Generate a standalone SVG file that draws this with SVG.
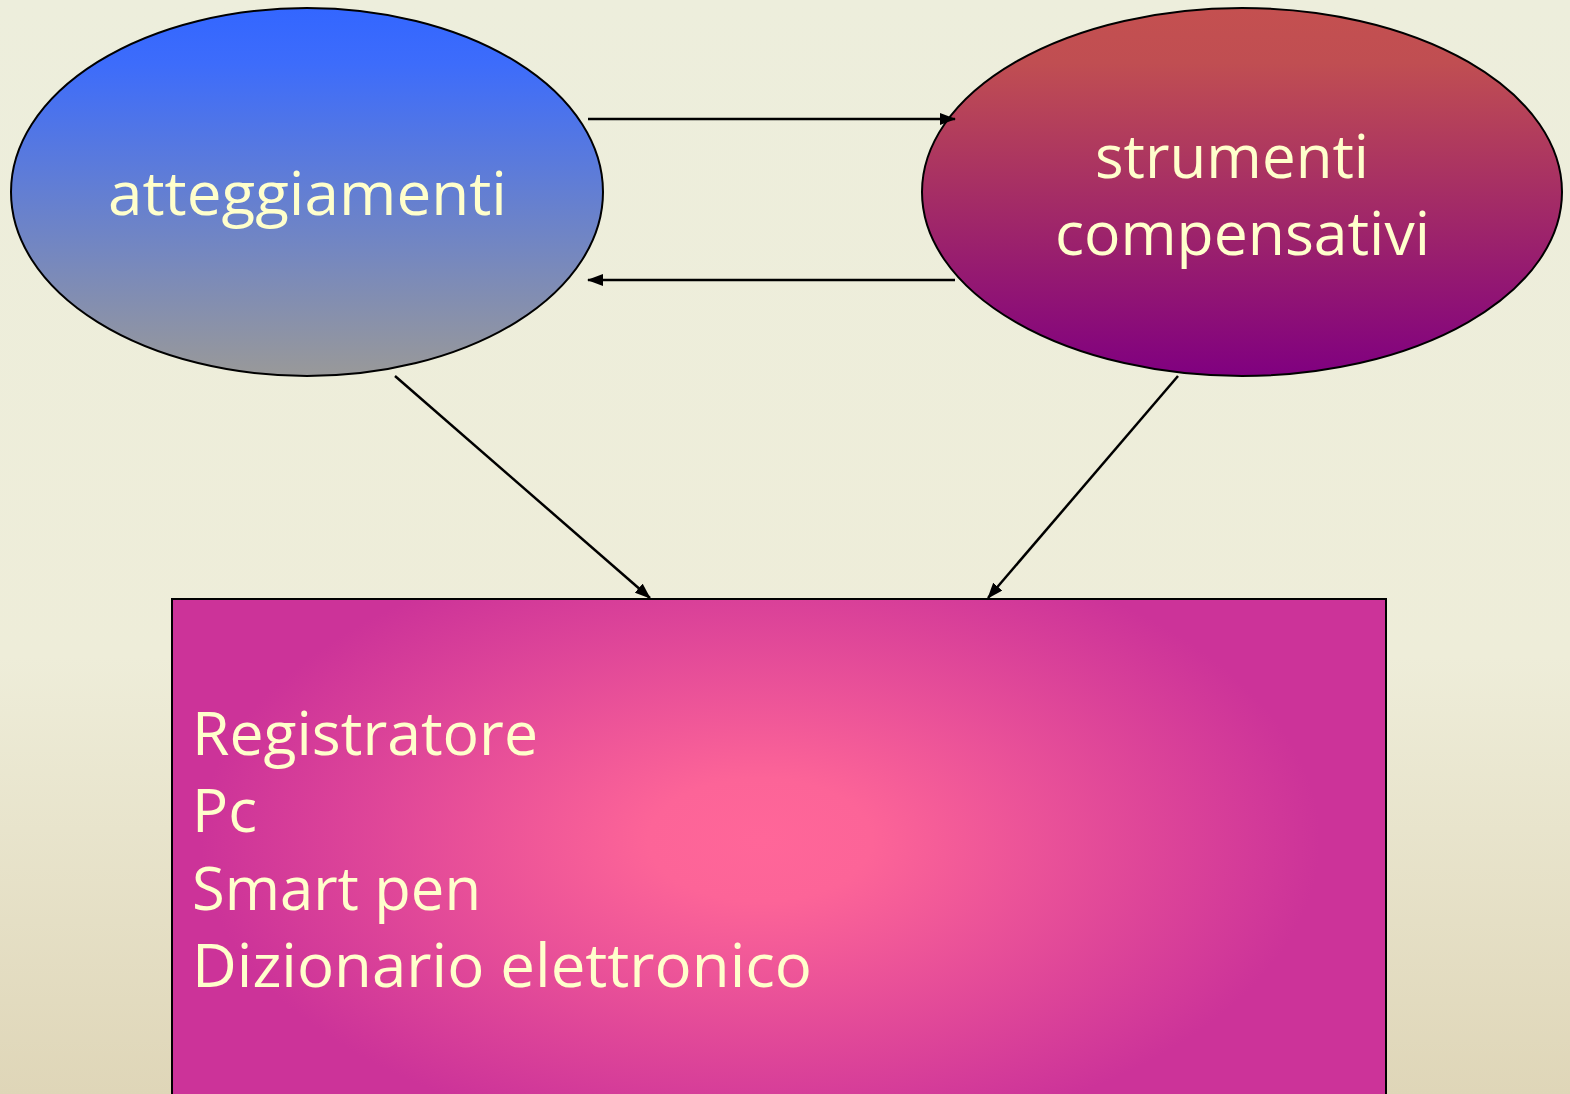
<svg xmlns="http://www.w3.org/2000/svg" width="1570" height="1094" viewBox="0 0 1570 1094">
<defs>
<linearGradient id="bg" x1="0" y1="0" x2="0" y2="1">
<stop offset="0" stop-color="#EDEEDC"/>
<stop offset="0.6" stop-color="#EEEDD9"/>
<stop offset="1" stop-color="#DFD6B8"/>
</linearGradient>
<linearGradient id="g1" x1="0" y1="0" x2="0" y2="1">
<stop offset="0" stop-color="#3366FF"/>
<stop offset="0.15" stop-color="#3D6CFB"/>
<stop offset="1" stop-color="#999999"/>
</linearGradient>
<linearGradient id="g2" x1="0" y1="0" x2="0" y2="1">
<stop offset="0" stop-color="#C45050"/>
<stop offset="0.15" stop-color="#C04E52"/>
<stop offset="1" stop-color="#800080"/>
</linearGradient>
<radialGradient id="g3" cx="760" cy="840" r="560" gradientUnits="userSpaceOnUse" gradientTransform="translate(760 840) scale(1 0.55) translate(-760 -840)">
<stop offset="0" stop-color="#FF6699"/>
<stop offset="0.2" stop-color="#FC6498"/>
<stop offset="1" stop-color="#CC3399"/>
</radialGradient>
<marker id="ah" markerWidth="10" markerHeight="10" refX="9" refY="5" orient="auto" markerUnits="userSpaceOnUse" viewBox="0 0 10 10">
<path d="M0,0 L10,5 L0,10 z" fill="#000"/>
</marker>
<marker id="ah2" markerWidth="16" markerHeight="12" refX="15" refY="6" orient="auto" markerUnits="userSpaceOnUse" viewBox="0 0 16 12">
<path d="M0,0 L16,6 L0,12 z" fill="#000"/>
</marker>
</defs>
<style>
.node{stroke:#000;stroke-width:2}
.lbl{font-family:"Open Sans","Liberation Sans",sans-serif;font-size:60px;fill:#FFFFCC}
.edge{stroke:#000;stroke-width:2.5;fill:none;marker-end:url(#ah2)}
</style>
<rect x="0" y="0" width="1570" height="1094" fill="url(#bg)"/>
<g id="n-atteggiamenti">
<ellipse class="node" cx="307" cy="192" rx="296" ry="184" fill="url(#g1)"/>
<text class="lbl" x="108" y="215" textLength="399" lengthAdjust="spacingAndGlyphs">atteggiamenti</text>
</g>
<g id="n-strumenti">
<ellipse class="node" cx="1242" cy="192" rx="320" ry="184" fill="url(#g2)"/>
<text class="lbl" x="1095" y="178" textLength="274" lengthAdjust="spacingAndGlyphs">strumenti</text>
<text class="lbl" x="1055" y="255" textLength="375" lengthAdjust="spacingAndGlyphs">compensativi</text>
</g>
<g id="n-elenco">
<rect class="node" x="172" y="599" width="1214" height="510" fill="url(#g3)"/>
<text class="lbl" x="192" y="755" textLength="346" lengthAdjust="spacingAndGlyphs">Registratore</text>
<text class="lbl" x="192" y="832" textLength="65" lengthAdjust="spacingAndGlyphs">Pc</text>
<text class="lbl" x="192" y="910" textLength="289" lengthAdjust="spacingAndGlyphs">Smart pen</text>
<text class="lbl" x="192" y="987" textLength="620" lengthAdjust="spacingAndGlyphs">Dizionario elettronico</text>
</g>
<g id="connectors">
<line class="edge" x1="588" y1="119" x2="955" y2="119"/>
<line class="edge" x1="955" y1="280" x2="588" y2="280"/>
<line class="edge" x1="395" y1="376" x2="650" y2="598"/>
<line class="edge" x1="1178" y1="376" x2="988" y2="598"/>
</g>
</svg>
